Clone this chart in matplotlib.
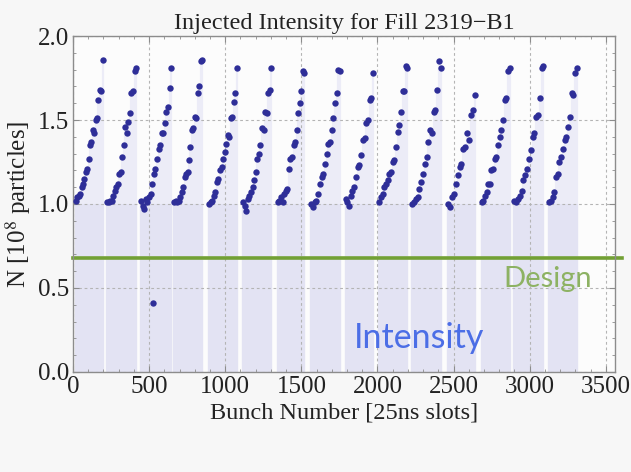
import matplotlib
matplotlib.use("Agg")
import matplotlib.pyplot as plt
import numpy as np
from matplotlib.ticker import MultipleLocator

# bunch trains: first and last slot, and the intensity of the bunches
train_start = [20, 224, 447, 665, 895, 1118, 1346, 1566, 1790, 2013, 2230, 2465, 2684, 2899, 3127]
train_end = [195, 414, 645, 849, 1077, 1303, 1520, 1755, 1972, 2197, 2414, 2638, 2868, 3090, 3309]
train_values = [
    [1.02, 1.04, 1.05, 1.06, 1.10, 1.12, 1.15, 1.19, 1.21, 1.27, 1.35, 1.37, 1.44, 1.42, 1.50, 1.51, 1.62, 1.68, 1.67, 1.86],
    [1.01, 1.01, 1.02, 1.02, 1.05, 1.08, 1.10, 1.12, 1.18, 1.19, 1.28, 1.35, 1.46, 1.42, 1.49, 1.54, 1.66, 1.67, 1.79, 1.81],
    [1.02, 0.99, 0.97, 1.03, 1.01, 1.04, 1.06, 1.12, 1.18, 1.21, 1.27, 1.33, 1.35, 1.42, 1.42, 1.48, 1.55, 1.58, 1.69, 1.81],
    [1.01, 1.02, 1.01, 1.02, 1.04, 1.07, 1.10, 1.16, 1.18, 1.19, 1.26, 1.34, 1.44, 1.45, 1.52, 1.51, 1.66, 1.70, 1.85, 1.86],
    [1.00, 1.01, 1.02, 1.05, 1.07, 1.13, 1.15, 1.20, 1.22, 1.27, 1.31, 1.36, 1.41, 1.40, 1.51, 1.52, 1.61, 1.66, 1.81],
    [1.01, 0.99, 0.96, 1.03, 1.05, 1.07, 1.10, 1.14, 1.19, 1.27, 1.30, 1.35, 1.45, 1.44, 1.55, 1.54, 1.66, 1.68, 1.81],
    [1.01, 1.02, 1.04, 1.01, 1.06, 1.08, 1.09, 1.21, 1.27, 1.28, 1.35, 1.37, 1.44, 1.54, 1.60, 1.67, 1.79, 1.78],
    [1.00, 0.98, 1.01, 1.02, 1.06, 1.12, 1.16, 1.18, 1.24, 1.30, 1.36, 1.37, 1.44, 1.51, 1.60, 1.66, 1.80, 1.79],
    [1.03, 1.01, 0.99, 1.05, 1.08, 1.10, 1.16, 1.22, 1.23, 1.29, 1.38, 1.39, 1.48, 1.50, 1.62, 1.63, 1.78],
    [1.01, 1.04, 1.06, 1.10, 1.12, 1.14, 1.18, 1.19, 1.25, 1.26, 1.34, 1.43, 1.47, 1.55, 1.67, 1.67, 1.82, 1.81],
    [1.00, 1.01, 1.03, 1.04, 1.09, 1.13, 1.18, 1.24, 1.28, 1.37, 1.44, 1.42, 1.55, 1.56, 1.68, 1.85, 1.81],
    [1.00, 0.98, 1.04, 1.06, 1.12, 1.17, 1.22, 1.24, 1.33, 1.34, 1.42, 1.38, 1.53, 1.56, 1.65],
    [1.01, 1.02, 1.05, 1.07, 1.12, 1.12, 1.20, 1.21, 1.27, 1.28, 1.35, 1.40, 1.44, 1.50, 1.62, 1.63, 1.79, 1.81],
    [1.02, 1.01, 1.03, 1.05, 1.08, 1.14, 1.17, 1.21, 1.27, 1.32, 1.40, 1.42, 1.52, 1.53, 1.63, 1.81, 1.82],
    [1.01, 1.02, 1.04, 1.07, 1.16, 1.18, 1.25, 1.28, 1.33, 1.38, 1.40, 1.46, 1.52, 1.66, 1.65, 1.78, 1.81],
]
# single low bunch in the third train
outlier_slot = [526]
outlier_value = [0.41]

design_intensity = 0.68

plt.rcParams["font.family"] = ["Liberation Serif", "DejaVu Serif"]
plt.rcParams["mathtext.fontset"] = "stix"

slots = []
values = []
for start, end, vals in zip(train_start, train_end, train_values):
    slots.append(np.linspace(start, end, len(vals)))
    values.append(np.array(vals))
slots = np.concatenate(slots + [np.array(outlier_slot)])
values = np.concatenate(values + [np.array(outlier_value)])

fig = plt.figure(figsize=(6.31, 4.72), dpi=100, facecolor="#f7f7f7")
ax = fig.add_axes([0.1157, 0.2119, 0.8589, 0.7118])
ax.set_facecolor("#fcfcfc")

# filling down to the axis, lighter above the flat part of each train
ax.vlines(slots, 0, values, color="#ececf7", lw=1.6, zorder=1)
ax.vlines(slots, 0, np.minimum(values, 1.0), color="#e3e3f3", lw=1.6, zorder=1)

ax.axhline(design_intensity, xmin=0, xmax=1.013, color="#72a034", lw=2.6,
           zorder=2, clip_on=False)
ax.plot(slots, values, "o", color="#2e2e98", ms=4.6, mec="none", zorder=3)

ax.text(2829, 0.506, "Design", family="Lato", fontsize=21, color="#8db263", zorder=4)
ax.text(1842, 0.143, "Intensity", family="Lato", fontsize=24.5, color="#4c6ee6", zorder=4)

ax.set_xlim(0, 3560)
ax.set_ylim(0, 2.0)
ax.xaxis.set_major_locator(MultipleLocator(500))
ax.xaxis.set_minor_locator(MultipleLocator(100))
ax.yaxis.set_major_locator(MultipleLocator(0.5))
ax.yaxis.set_minor_locator(MultipleLocator(0.1))
ax.yaxis.set_major_formatter(lambda v, p: f"{v:.1f}")

ax.set_axisbelow("line")
ax.grid(True, which="major", color="#b4b4b4", ls=(0, (2.5, 2.5)), lw=0.8)

ax.tick_params(which="both", direction="in", top=True, right=True,
               color="#8c8c8c", labelsize=18, labelcolor="#222222")
ax.tick_params(which="major", length=4.5, width=0.8, pad=3)
ax.tick_params(which="minor", length=2.5, width=0.6)
for s in ax.spines.values():
    s.set_color("#8c8c8c")
    s.set_linewidth(1.0)

ax.set_title("Injected Intensity for Fill 2319\u2212B1", fontsize=17.5, pad=5, color="#222222")
ax.set_xlabel("Bunch Number [25ns slots]", fontsize=17.5, labelpad=3, color="#222222")
ax.set_ylabel("N [10$^{8}$ particles]", fontsize=18, labelpad=3, color="#222222")

fig.savefig("out.png", dpi=100, facecolor=fig.get_facecolor())
